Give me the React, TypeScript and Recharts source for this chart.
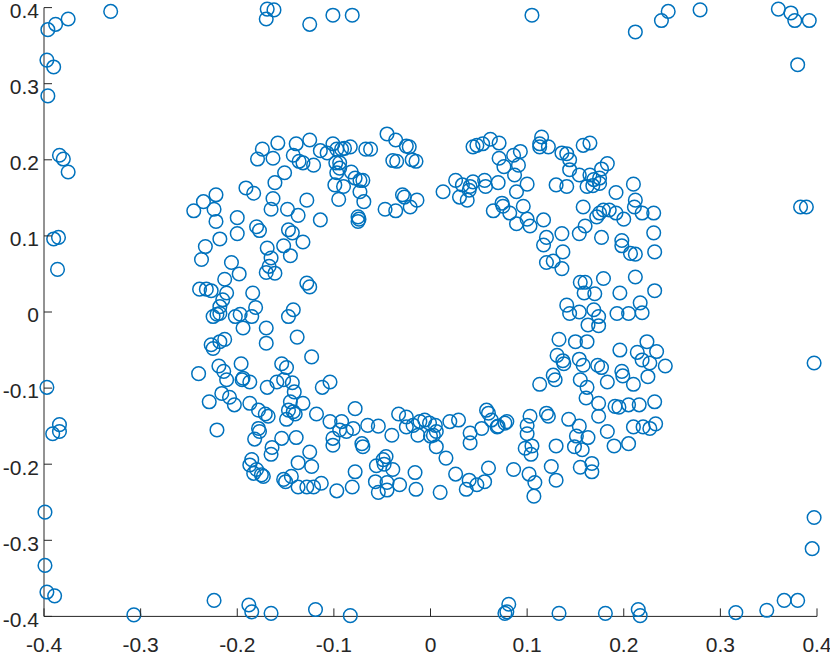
import { ScatterChart, Scatter, XAxis, YAxis } from "recharts";

// outer points, near the frame
const edgeLeft: [number, number][] = [
  [-0.396, 0.371], [-0.388, 0.378], [-0.375, 0.385], [-0.397, 0.331], [-0.39, 0.322],
  [-0.396, 0.284], [-0.384, 0.206], [-0.38, 0.201], [-0.375, 0.184], [-0.39, 0.096],
  [-0.385, 0.098], [-0.386, 0.056], [-0.397, -0.099], [-0.384, -0.148], [-0.391, -0.16],
  [-0.384, -0.157], [-0.399, -0.263], [-0.399, -0.333], [-0.397, -0.368], [-0.389, -0.373],
];

const edgeTop: [number, number][] = [
  [-0.331, 0.395], [-0.169, 0.398], [-0.162, 0.397], [-0.17, 0.385], [-0.125, 0.378],
  [-0.101, 0.39], [-0.081, 0.39], [0.105, 0.39], [0.212, 0.368], [0.239, 0.383],
  [0.246, 0.395], [0.279, 0.397], [0.36, 0.398], [0.373, 0.393], [0.377, 0.383],
  [0.392, 0.383],
];

const edgeRight: [number, number][] = [
  [0.38, 0.325], [0.383, 0.138], [0.389, 0.138], [0.397, -0.067], [0.397, -0.27], [0.395, -0.311],
];

const edgeBottom: [number, number][] = [
  [-0.307, -0.398], [-0.224, -0.379], [-0.188, -0.385], [-0.185, -0.394], [-0.165, -0.396],
  [-0.119, -0.391], [-0.083, -0.399], [0.081, -0.384], [0.079, -0.394], [0.077, -0.396],
  [0.133, -0.396], [0.181, -0.396], [0.215, -0.391], [0.217, -0.399], [0.316, -0.395],
  [0.348, -0.392], [0.366, -0.379], [0.38, -0.379],
];

// the ring, by quadrant
const ringUpperLeft: [number, number][] = [
  [-0.045, 0.234], [-0.036, 0.226], [-0.025, 0.218], [-0.022, 0.217], [-0.039, 0.199],
  [-0.035, 0.198], [-0.019, 0.2], [-0.015, 0.198], [-0.067, 0.214], [-0.062, 0.214],
  [-0.101, 0.221], [-0.097, 0.214], [-0.092, 0.214], [-0.089, 0.215], [-0.083, 0.217],
  [-0.114, 0.212], [-0.107, 0.209], [-0.125, 0.226], [-0.139, 0.221], [-0.142, 0.206],
  [-0.136, 0.198], [-0.132, 0.196], [-0.121, 0.193], [-0.158, 0.222], [-0.174, 0.214],
  [-0.179, 0.201], [-0.163, 0.202], [-0.151, 0.183], [-0.161, 0.17], [-0.098, 0.196],
  [-0.094, 0.196], [-0.094, 0.189], [-0.097, 0.183], [-0.099, 0.167], [-0.09, 0.165],
  [-0.095, 0.148], [-0.082, 0.184], [-0.078, 0.176], [-0.073, 0.173], [-0.07, 0.173],
  [-0.073, 0.158], [-0.069, 0.145], [-0.075, 0.125], [-0.074, 0.122], [-0.075, 0.119],
  [-0.029, 0.154], [-0.027, 0.151], [-0.014, 0.147], [-0.021, 0.138], [-0.036, 0.133],
  [-0.047, 0.135], [-0.191, 0.163], [-0.183, 0.156], [-0.222, 0.154], [-0.235, 0.145],
  [-0.245, 0.133], [-0.224, 0.135], [-0.222, 0.119], [-0.163, 0.149], [-0.165, 0.135],
  [-0.148, 0.135], [-0.137, 0.127], [-0.128, 0.147], [-0.114, 0.121], [-0.2, 0.124],
  [-0.2, 0.103], [-0.18, 0.112], [-0.177, 0.107], [-0.218, 0.096], [-0.147, 0.108],
  [-0.143, 0.104], [-0.132, 0.092], [-0.152, 0.087], [-0.145, 0.074], [-0.169, 0.084],
  [-0.233, 0.086], [-0.237, 0.069], [-0.206, 0.065], [-0.198, 0.05], [-0.213, 0.043],
  [-0.165, 0.071], [-0.167, 0.06], [-0.17, 0.052], [-0.161, 0.051], [-0.128, 0.038],
  [-0.125, 0.033], [-0.239, 0.03], [-0.232, 0.03], [-0.227, 0.028], [-0.211, 0.025],
  [-0.215, 0.016], [-0.218, 0.007], [-0.221, -0.003], [-0.218, -0.002], [-0.225, -0.006],
  [-0.184, 0.025], [-0.181, 0.006], [-0.185, -0.006], [-0.197, -0.003], [-0.202, -0.006],
  [-0.142, 0.003], [-0.147, -0.006],
];

const ringUpperRight: [number, number][] = [
  [0.044, 0.217], [0.048, 0.219], [0.054, 0.221], [0.062, 0.227], [0.071, 0.222],
  [0.071, 0.202], [0.076, 0.191], [0.086, 0.206], [0.093, 0.211], [0.091, 0.193],
  [0.087, 0.18], [0.089, 0.158], [0.1, 0.168], [0.115, 0.23], [0.113, 0.221],
  [0.113, 0.217], [0.122, 0.217], [0.136, 0.209], [0.141, 0.208], [0.144, 0.2],
  [0.144, 0.187], [0.154, 0.18], [0.165, 0.222], [0.158, 0.219], [0.165, 0.18],
  [0.169, 0.174], [0.175, 0.176], [0.177, 0.188], [0.183, 0.195], [0.162, 0.165],
  [0.168, 0.166], [0.175, 0.169], [0.13, 0.167], [0.141, 0.165], [0.026, 0.173],
  [0.033, 0.167], [0.041, 0.165], [0.044, 0.171], [0.056, 0.173], [0.057, 0.165],
  [0.07, 0.17], [0.013, 0.158], [0.03, 0.151], [0.038, 0.147], [0.04, 0.16],
  [0.096, 0.139], [0.074, 0.143], [0.075, 0.139], [0.065, 0.133], [0.082, 0.13],
  [0.089, 0.116], [0.1, 0.122], [0.103, 0.113], [0.117, 0.121], [0.192, 0.157],
  [0.21, 0.168], [0.212, 0.147], [0.211, 0.138], [0.219, 0.13], [0.231, 0.13],
  [0.158, 0.138], [0.172, 0.125], [0.175, 0.13], [0.179, 0.134], [0.185, 0.134],
  [0.192, 0.13], [0.2, 0.122], [0.154, 0.103], [0.16, 0.113], [0.177, 0.098],
  [0.198, 0.094], [0.198, 0.087], [0.207, 0.077], [0.212, 0.076], [0.231, 0.104],
  [0.232, 0.079], [0.12, 0.098], [0.117, 0.088], [0.136, 0.103], [0.137, 0.079],
  [0.12, 0.065], [0.127, 0.067], [0.136, 0.057], [0.155, 0.039], [0.16, 0.039],
  [0.159, 0.025], [0.17, 0.024], [0.179, 0.044], [0.196, 0.025], [0.212, 0.046],
  [0.232, 0.028], [0.141, 0.009], [0.144, -0.002], [0.154, 0.0], [0.169, 0.003],
  [0.174, -0.006], [0.193, -0.002], [0.205, -0.002], [0.217, 0.012], [0.219, -0.001],
];

const ringLowerLeft: [number, number][] = [
  [-0.194, -0.021], [-0.17, -0.021], [-0.17, -0.041], [-0.138, -0.033], [-0.227, -0.043],
  [-0.225, -0.048], [-0.218, -0.039], [-0.213, -0.036], [-0.123, -0.059], [-0.24, -0.081],
  [-0.219, -0.071], [-0.214, -0.078], [-0.211, -0.089], [-0.196, -0.068], [-0.194, -0.087],
  [-0.187, -0.092], [-0.195, -0.089], [-0.154, -0.068], [-0.149, -0.073], [-0.169, -0.099],
  [-0.159, -0.092], [-0.152, -0.089], [-0.143, -0.093], [-0.141, -0.105], [-0.132, -0.12],
  [-0.145, -0.118], [-0.147, -0.129], [-0.142, -0.131], [-0.14, -0.134], [-0.149, -0.141],
  [-0.168, -0.137], [-0.171, -0.134], [-0.187, -0.12], [-0.178, -0.129], [-0.216, -0.107],
  [-0.208, -0.112], [-0.203, -0.122], [-0.229, -0.118], [-0.221, -0.155], [-0.112, -0.099],
  [-0.104, -0.092], [-0.118, -0.134], [-0.104, -0.144], [-0.092, -0.144], [-0.094, -0.155],
  [-0.087, -0.157], [-0.08, -0.153], [-0.078, -0.127], [-0.065, -0.149], [-0.054, -0.15],
  [-0.04, -0.162], [-0.101, -0.166], [-0.101, -0.175], [-0.071, -0.173], [-0.07, -0.177],
  [-0.033, -0.134], [-0.025, -0.138], [-0.025, -0.151], [-0.018, -0.149], [-0.011, -0.144],
  [-0.013, -0.162], [-0.178, -0.153], [-0.177, -0.157], [-0.182, -0.167], [-0.154, -0.166],
  [-0.139, -0.165], [-0.164, -0.178], [-0.165, -0.187], [-0.125, -0.184], [-0.185, -0.194],
  [-0.187, -0.201], [-0.18, -0.207], [-0.183, -0.212], [-0.175, -0.214], [-0.173, -0.216],
  [-0.137, -0.198], [-0.123, -0.203], [-0.152, -0.22], [-0.15, -0.223], [-0.144, -0.216],
  [-0.137, -0.23], [-0.128, -0.23], [-0.121, -0.23], [-0.113, -0.225], [-0.097, -0.235],
  [-0.081, -0.23], [-0.078, -0.21], [-0.056, -0.202], [-0.049, -0.194], [-0.046, -0.19],
  [-0.048, -0.2], [-0.039, -0.207], [-0.057, -0.223], [-0.045, -0.224], [-0.054, -0.237],
  [-0.045, -0.234], [-0.032, -0.227], [-0.016, -0.211], [-0.015, -0.233],
];

const ringLowerRight: [number, number][] = [
  [0.163, -0.017], [0.174, -0.018], [0.133, -0.036], [0.15, -0.039], [0.162, -0.039],
  [0.196, -0.05], [0.224, -0.039], [0.234, -0.052], [0.214, -0.053], [0.219, -0.063],
  [0.227, -0.067], [0.243, -0.071], [0.131, -0.057], [0.137, -0.064], [0.138, -0.068],
  [0.154, -0.062], [0.158, -0.07], [0.173, -0.07], [0.177, -0.073], [0.198, -0.078],
  [0.199, -0.084], [0.21, -0.095], [0.225, -0.085], [0.183, -0.092], [0.155, -0.089],
  [0.162, -0.099], [0.127, -0.083], [0.129, -0.089], [0.113, -0.095], [0.161, -0.113],
  [0.174, -0.12], [0.174, -0.137], [0.191, -0.124], [0.195, -0.125], [0.205, -0.122],
  [0.216, -0.122], [0.232, -0.118], [0.183, -0.157], [0.19, -0.176], [0.205, -0.173],
  [0.21, -0.151], [0.22, -0.151], [0.227, -0.153], [0.233, -0.147], [0.143, -0.141],
  [0.154, -0.15], [0.163, -0.165], [0.151, -0.163], [0.149, -0.177], [0.157, -0.181],
  [0.13, -0.176], [0.12, -0.133], [0.122, -0.137], [0.103, -0.137], [0.1, -0.149],
  [0.1, -0.16], [0.098, -0.179], [0.105, -0.176], [0.104, -0.187], [0.086, -0.207],
  [0.102, -0.213], [0.108, -0.224], [0.107, -0.242], [0.125, -0.203], [0.13, -0.221],
  [0.155, -0.204], [0.167, -0.199], [0.167, -0.21], [0.058, -0.129], [0.06, -0.133],
  [0.053, -0.153], [0.041, -0.159], [0.041, -0.172], [0.063, -0.142], [0.07, -0.15],
  [0.077, -0.146], [0.079, -0.144], [0.069, -0.151], [-0.006, -0.142], [-0.001, -0.146],
  [0.005, -0.149], [0.006, -0.157], [0.003, -0.162], [0.0, -0.163], [0.02, -0.144],
  [0.029, -0.142], [0.006, -0.177], [0.016, -0.192], [0.026, -0.213], [0.04, -0.221],
  [0.048, -0.227], [0.056, -0.223], [0.037, -0.233], [0.06, -0.205], [0.01, -0.237],
];

const xTicks = [-0.4, -0.3, -0.2, -0.1, 0, 0.1, 0.2, 0.3, 0.4];
const yTicks = [-0.4, -0.3, -0.2, -0.1, 0, 0.1, 0.2, 0.3, 0.4];

const points = [
  ...edgeLeft, ...edgeTop, ...edgeRight, ...edgeBottom,
  ...ringUpperLeft, ...ringUpperRight, ...ringLowerLeft, ...ringLowerRight,
].map(([x, y]) => ({ x, y }));

const AXIS = "#262626";
const BLUE = "#0072BD";
const FONT = "'Liberation Sans', Arial, Helvetica, sans-serif";

const fmt = (v: number) => (v === 0 ? "0" : String(v));

// matlab style: ticks point into the plot
function XTick(props: any) {
  const { x, y, payload } = props;
  return (
    <g>
      <line x1={x} y1={y} x2={x} y2={y - 8} stroke={AXIS} strokeWidth={1} />
      <text x={x} y={y + 36} textAnchor="middle" fill={AXIS} fontSize={21} fontFamily={FONT}>
        {fmt(payload.value)}
      </text>
    </g>
  );
}

function YTick(props: any) {
  const { x, y, payload } = props;
  return (
    <g>
      <line x1={x} y1={y} x2={x + 8} y2={y} stroke={AXIS} strokeWidth={1} />
      <text x={x - 5} y={y + 3} dy="0.35em" textAnchor="end" fill={AXIS} fontSize={21} fontFamily={FONT}>
        {fmt(payload.value)}
      </text>
    </g>
  );
}

function Ring(props: any) {
  const { cx, cy } = props;
  return <circle cx={cx} cy={cy} r={6.8} fill="none" stroke={BLUE} strokeWidth={1.5} />;
}

export default function App() {
  return (
    <div style={{ position: "absolute", left: 0, top: 0, background: "#fff" }}>
      <ScatterChart width={830} height={655} margin={{ top: 7.6, right: 13, bottom: 0, left: 0 }}>
        <XAxis
          type="number"
          dataKey="x"
          domain={[-0.4, 0.4]}
          ticks={xTicks}
          height={38.6}
          tickSize={0}
          tickMargin={0}
          tickLine={false}
          axisLine={{ stroke: AXIS, strokeWidth: 1 }}
          tick={<XTick />}
          interval={0}
        />
        <YAxis
          type="number"
          dataKey="y"
          domain={[-0.4, 0.4]}
          ticks={yTicks}
          width={44}
          tickSize={0}
          tickMargin={0}
          tickLine={false}
          axisLine={{ stroke: AXIS, strokeWidth: 1 }}
          tick={<YTick />}
          interval={0}
        />
        <Scatter data={points} shape={<Ring />} isAnimationActive={false} />
      </ScatterChart>
    </div>
  );
}
